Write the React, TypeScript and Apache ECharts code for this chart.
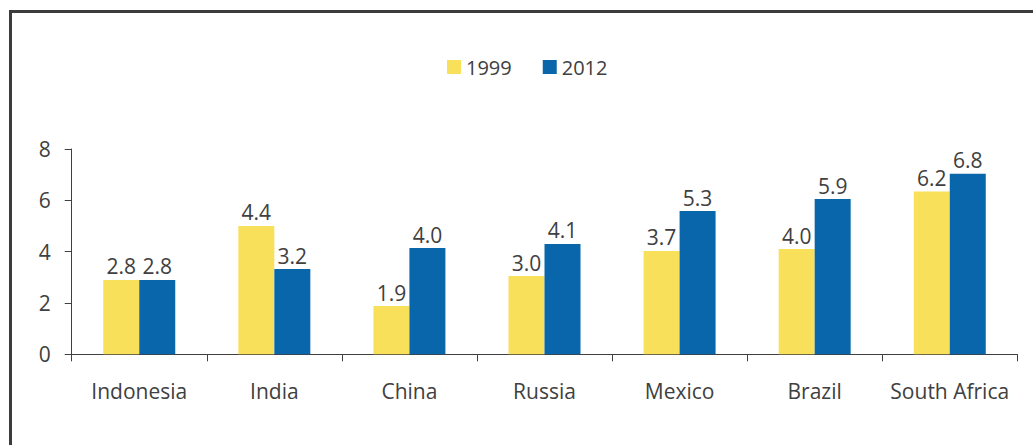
import React, { useEffect, useRef } from "react";
import * as echarts from "echarts";

const categories = ["Indonesia", "India", "China", "Russia", "Mexico", "Brazil", "South Africa"];
// bar heights as drawn in the picture
const heights1999 = [2.9, 5.0, 1.88, 3.05, 4.03, 4.1, 6.34];
const heights2012 = [2.9, 3.32, 4.14, 4.3, 5.58, 6.05, 7.04];
// value labels printed above the bars
const labels1999 = ["2.8", "4.4", "1.9", "3.0", "3.7", "4.0", "6.2"];
const labels2012 = ["2.8", "3.2", "4.0", "4.1", "5.3", "5.9", "6.8"];
const yTicks = [0, 2, 4, 6, 8];

const FONT = "'Open Sans', sans-serif";
const TEXT = "#404040";
const YELLOW = "#F9E05B";
const BLUE = "#0A66AA";

export default function App() {
  const ref = useRef<HTMLDivElement>(null);
  useEffect(() => {
    if (!ref.current) return;
    const chart = echarts.init(ref.current, null, { renderer: "svg" });
    const labelStyle = (arr: string[]) => ({
      show: true,
      position: "top",
      distance: 3,
      color: TEXT,
      fontFamily: FONT,
      fontSize: 21,
      formatter: (p: any) => arr[p.dataIndex],
    });
    chart.setOption({
      animation: false,
      backgroundColor: "#fff",
      textStyle: { fontFamily: FONT },
      graphic: [
        {
          type: "rect",
          shape: { x: 10.5, y: 11.5, width: 1100, height: 600 },
          style: { fill: "none", stroke: "#3c3c3c", lineWidth: 3 },
          silent: true,
        },
      ],
      legend: {
        left: 447,
        top: 57,
        padding: 0,
        itemWidth: 14,
        itemHeight: 14,
        itemGap: 31,
        icon: "rect",
        textStyle: { color: TEXT, fontSize: 20, fontFamily: FONT, padding: [0, 0, 0, 0] },
        data: ["1999", "2012"],
      },
      grid: { left: 71.7, right: 15.7, top: 149, bottom: 90.7, containLabel: false },
      xAxis: {
        type: "category",
        data: categories,
        axisLine: { lineStyle: { color: TEXT, width: 1 } },
        axisTick: { show: true, length: 7, lineStyle: { color: TEXT } },
        axisLabel: { color: TEXT, fontSize: 21, fontFamily: FONT, margin: 26, interval: 0 },
      },
      yAxis: {
        type: "value",
        min: yTicks[0],
        max: yTicks[yTicks.length - 1],
        interval: 2,
        splitLine: { show: false },
        axisLine: { show: true, lineStyle: { color: TEXT, width: 1 } },
        axisTick: { show: true, length: 7, lineStyle: { color: TEXT } },
        axisLabel: { color: TEXT, fontSize: 21, fontFamily: FONT, margin: 21 },
      },
      series: [
        {
          name: "1999",
          type: "bar",
          data: heights1999,
          itemStyle: { color: YELLOW },
          barWidth: 36,
          barGap: "0%",
          label: labelStyle(labels1999),
        },
        {
          name: "2012",
          type: "bar",
          data: heights2012,
          itemStyle: { color: BLUE },
          barWidth: 36,
          barGap: "0%",
          label: labelStyle(labels2012),
        },
      ],
    });
    return () => chart.dispose();
  }, []);
  return (
    <div
      ref={ref}
      style={{ position: "fixed", left: 0, top: 0, width: 1033, height: 445 }}
    />
  );
}
